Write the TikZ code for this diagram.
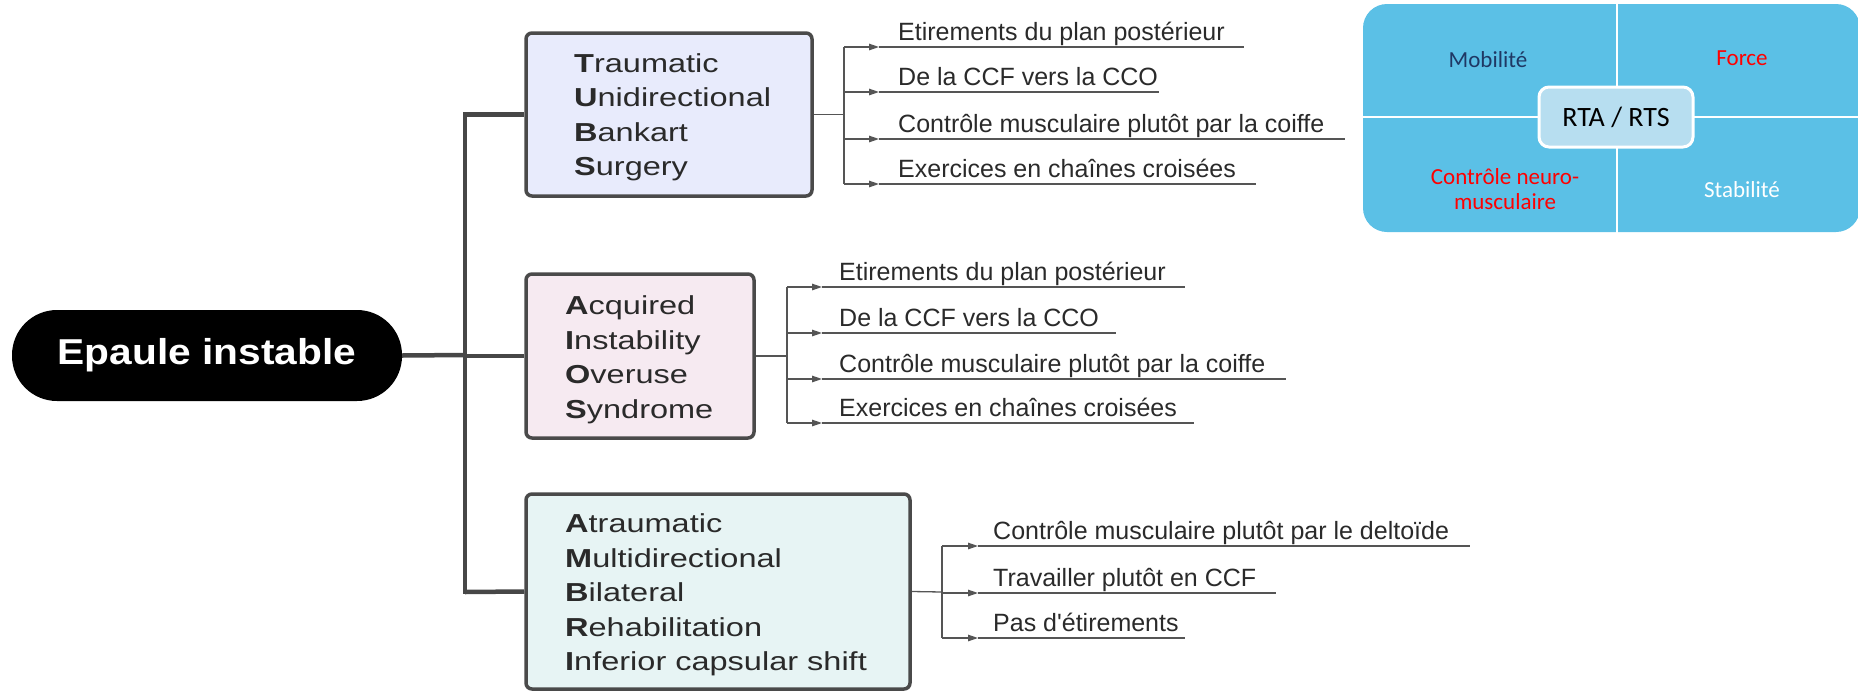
\documentclass[tikz,border=0pt]{standalone}
\usepackage{fontspec}
\setmainfont{Liberation Sans}[Ligatures=TeXOff]
\newfontfamily\widesans[FakeStretch=1.25]{Liberation Sans}
\newfontfamily\pillsans[FakeStretch=1.13]{Liberation Sans}
\newfontfamily\calib{Carlito}
\usetikzlibrary{arrows.meta}

\definecolor{trunkgray}{HTML}{474747}
\definecolor{boxgray}{HTML}{4A4A4A}
\definecolor{branchgray}{HTML}{555555}
\definecolor{textdark}{HTML}{2A2A2A}
\definecolor{fillone}{HTML}{E8EBFC}
\definecolor{filltwo}{HTML}{F6EAF1}
\definecolor{fillthree}{HTML}{E7F4F4}
\definecolor{quadblue}{HTML}{5BC0E6}
\definecolor{centerblue}{HTML}{B7DEF0}
\definecolor{navy}{HTML}{1F3864}
\definecolor{brightred}{HTML}{FF0000}

\begin{document}
\begin{tikzpicture}[x=1pt,y=-1pt,
  trunk/.style={draw=trunkgray, line width=4.5pt},
  root/.style={fill=black, rounded corners=45pt, minimum width=390pt, minimum height=91pt,
    inner sep=0pt, text=white, font=\pillsans\bfseries\fontsize{36}{40}\selectfont},
  boxbase/.style={draw=boxgray, line width=3.5pt, rounded corners=6pt, inner sep=0pt},
  boxtext/.style={font=\widesans\fontsize{26}{34.5}\selectfont, text=textdark, align=left,
    anchor=west, inner sep=0pt},
  branch/.style={draw=branchgray, line width=1.3pt},
  arrowed/.style={-{Triangle[length=10pt,width=6.5pt]}},
  leaf/.style={font=\fontsize{25}{30}\selectfont, text=textdark, anchor=base west, inner sep=0pt},
  quadtext/.style={font=\calib\fontsize{23}{25}\selectfont, align=center, inner sep=0pt},
  centerbox/.style={fill=centerblue, draw=white, line width=3pt, rounded corners=10pt,
    minimum width=154pt, minimum height=60pt, inner sep=0pt,
    font=\calib\fontsize{28}{30}\selectfont, text=black}
]
\useasboundingbox (0,0) rectangle (1858,691);

% ---- root and trunk ----
\node[root] (root) at (207,355.5) {Epaule instable};

\node[boxbase, fill=fillone, minimum width=286pt, minimum height=163pt] (tubs) at (669,114.5) {};
\node[boxbase, fill=filltwo, minimum width=228pt, minimum height=164pt] (aios) at (640,356) {};
\node[boxbase, fill=fillthree, minimum width=384pt, minimum height=195pt] (ambri) at (718,591.5) {};

\node[boxtext] (tubstext) at (574,117.5) {\textbf{T}raumatic\\\textbf{U}nidirectional\\\textbf{B}ankart\\\textbf{S}urgery};
\node[boxtext] (aiostext) at (565,360) {\textbf{A}cquired\\\textbf{I}nstability\\\textbf{O}veruse\\\textbf{S}yndrome};
\node[boxtext] (ambritext) at (565,595) {\textbf{A}traumatic\\\textbf{M}ultidirectional\\\textbf{B}ilateral\\\textbf{R}ehabilitation\\\textbf{I}nferior capsular shift};

\coordinate (jtop) at (465,114.5);
\coordinate (jmid) at (465,355);
\coordinate (jbot) at (465,592);
\draw[trunk, line cap=rect] (jtop) -- (jbot);
\draw[trunk] (root.east) -- (jmid);
\draw[trunk] (jtop) -- (tubs.west);
\draw[trunk] (jmid |- aios.west) -- (aios.west);
\draw[trunk] (jbot) -- (ambri.west);

% ---- first group ----
\coordinate (f1) at (844,114.5);
\coordinate (a11) at (879,47);  \coordinate (e11) at (1244,47);
\coordinate (a12) at (879,92);  \coordinate (e12) at (1159,92);
\coordinate (a13) at (879,139); \coordinate (e13) at (1345,139);
\coordinate (a14) at (879,184); \coordinate (e14) at (1256,184);
\draw[branch] (tubs.east) -- (f1);
\draw[branch] (f1 |- a11) -- (f1 |- a14);
\foreach \r in {11,12,13,14}{
  \draw[branch, arrowed] (f1 |- a\r) -- (a\r);
  \draw[branch] (a\r) -- (e\r);
}
\node[leaf] (l11) at (898,40)  {Etirements du plan postérieur};
\node[leaf] (l12) at (898,85)  {De la CCF vers la CCO};
\node[leaf] (l13) at (898,132) {Contrôle musculaire plutôt par la coiffe};
\node[leaf] (l14) at (898,177) {Exercices en chaînes croisées};

% ---- second group ----
\coordinate (f2) at (787,356);
\coordinate (a21) at (822,287); \coordinate (e21) at (1185,287);
\coordinate (a22) at (822,333); \coordinate (e22) at (1116,333);
\coordinate (a23) at (822,379); \coordinate (e23) at (1286,379);
\coordinate (a24) at (822,423); \coordinate (e24) at (1194,423);
\draw[branch] (aios.east) -- (f2);
\draw[branch] (f2 |- a21) -- (f2 |- a24);
\foreach \r in {21,22,23,24}{
  \draw[branch, arrowed] (f2 |- a\r) -- (a\r);
  \draw[branch] (a\r) -- (e\r);
}
\node[leaf] (l21) at (839,280) {Etirements du plan postérieur};
\node[leaf] (l22) at (839,326) {De la CCF vers la CCO};
\node[leaf] (l23) at (839,372) {Contrôle musculaire plutôt par la coiffe};
\node[leaf] (l24) at (839,416) {Exercices en chaînes croisées};

% ---- third group ----
\coordinate (f3) at (942,592);
\coordinate (a31) at (978,546); \coordinate (e31) at (1470,546);
\coordinate (a32) at (978,593); \coordinate (e32) at (1276,593);
\coordinate (a33) at (978,638); \coordinate (e33) at (1185,638);
\draw[branch] (ambri.east) -- (f3);
\draw[branch] (f3 |- a31) -- (f3 |- a33);
\foreach \r in {31,32,33}{
  \draw[branch, arrowed] (f3 |- a\r) -- (a\r);
  \draw[branch] (a\r) -- (e\r);
}
\node[leaf] (l31) at (993,539) {Contrôle musculaire plutôt par le deltoïde};
\node[leaf] (l32) at (993,586) {Travailler plutôt en CCF};
\node[leaf] (l33) at (993,631) {Pas d'étirements};

% ---- RTA / RTS matrix ----
\fill[quadblue, rounded corners=24pt] (1363,4) rectangle (1860,232);
\draw[white, line width=2.5pt] (1617,0) -- (1617,236);
\draw[white, line width=2.5pt] (1360,117) -- (1858,117);
\node[centerbox] (rta) at (1616,117) {RTA / RTS};
\node[quadtext, text=navy] (mob) at (1488,60) {Mobilité};
\node[quadtext, text=brightred] (force) at (1742,58) {Force};
\node[quadtext, text=brightred] (neuro) at (1505,189) {Contrôle neuro-\\musculaire};
\node[quadtext, text=white] (stab) at (1742,190) {Stabilité};
\end{tikzpicture}
\end{document}
